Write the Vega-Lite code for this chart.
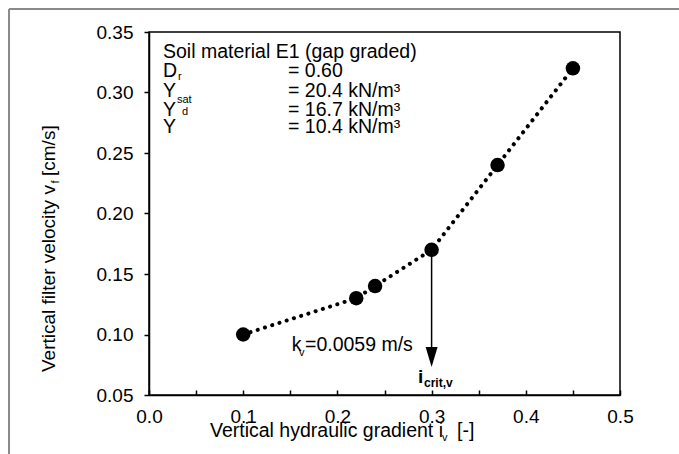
{
  "$schema": "https://vega.github.io/schema/vega-lite/v6.json",
  "width": 471,
  "height": 363,
  "autosize": {"type": "none"},
  "padding": {"left": 149, "top": 32, "right": 59, "bottom": 59},
  "background": "white",
  "config": {
    "view": {"stroke": "black", "strokeWidth": 1.5},
    "axis": {"labelFont": "Liberation Sans", "labelFontSize": 19, "labelColor": "black", "tickColor": "black", "domainColor": "black", "domainWidth": 1.5, "tickWidth": 1.5, "grid": false, "labelOverlap": false, "labelBound": false, "labelFlush": false, "title": null},
    "text": {"font": "Liberation Sans", "color": "black"}
  },
  "datasets": {
    "pts": [
      {"i": 0.10, "v": 0.10},
      {"i": 0.22, "v": 0.13},
      {"i": 0.24, "v": 0.14},
      {"i": 0.30, "v": 0.17},
      {"i": 0.37, "v": 0.24},
      {"i": 0.45, "v": 0.32}
    ],
    "main": [
      {"x": 0.01486, "y": 0.32851, "t": "Soil material E1 (gap graded)"},
      {"x": 0.01486, "y": 0.31281, "t": "D"},
      {"x": 0.01486, "y": 0.29628, "t": "Y"},
      {"x": 0.01486, "y": 0.28058, "t": "Y"},
      {"x": 0.01486, "y": 0.26653, "t": "Y"},
      {"x": 0.14756, "y": 0.31281, "t": "= 0.60"},
      {"x": 0.14756, "y": 0.29628, "t": "= 20.4 kN/m³"},
      {"x": 0.14756, "y": 0.28058, "t": "= 16.7 kN/m³"},
      {"x": 0.14756, "y": 0.26653, "t": "= 10.4 kN/m³"},
      {"x": 0.1515, "y": 0.0864, "t": "k"},
      {"x": 0.1656, "y": 0.0864, "t": "=0.0059 m/s"},
      {"x": 0.06476, "y": 0.01529, "t": "Vertical hydraulic gradient i"},
      {"x": 0.3270, "y": 0.01529, "t": "[-]"}
    ],
    "subs": [
      {"x": 0.03079, "y": 0.31033, "t": "r"},
      {"x": 0.02972, "y": 0.29132, "t": "sat"},
      {"x": 0.03503, "y": 0.28141, "t": "d"},
      {"x": 0.1592, "y": 0.0823, "t": "v"},
      {"x": 0.3110, "y": 0.01198, "t": "v"}
    ],
    "rot": [
      {"x": -0.0998, "y": 0.0690, "t": "Vertical filter velocity v"},
      {"x": -0.0998, "y": 0.2310, "t": "[cm/s]"}
    ],
    "rotsub": [
      {"x": -0.0955, "y": 0.2248, "t": "f"}
    ],
    "bold": [
      {"x": 0.2856, "y": 0.0599, "t": "i"}
    ],
    "boldsub": [
      {"x": 0.2919, "y": 0.0566, "t": "crit,v"}
    ],
    "one": [{}]
  },
  "layer": [
    {
      "data": {"name": "pts"},
      "mark": {"type": "line", "color": "black", "strokeWidth": 4, "strokeDash": [0.1, 7.5], "strokeCap": "round"},
      "encoding": {
        "x": {"field": "i", "type": "quantitative", "scale": {"domain": [0, 0.5], "nice": false, "zero": false},
          "axis": {"values": [0, 0.05, 0.1, 0.15, 0.2, 0.25, 0.3, 0.35, 0.4, 0.45, 0.5], "tickSize": -5, "labelPadding": 17,
            "labelExpr": "abs(datum.value*10 - round(datum.value*10)) < 0.001 ? format(datum.value, '.1f') : ''"}},
        "y": {"field": "v", "type": "quantitative", "scale": {"domain": [0.05, 0.35], "nice": false, "zero": false},
          "axis": {"values": [0.05, 0.075, 0.1, 0.125, 0.15, 0.175, 0.2, 0.225, 0.25, 0.275, 0.3, 0.325, 0.35], "labelPadding": 11,
            "tickSize": {"condition": {"test": "abs(datum.value*20 - round(datum.value*20)) > 0.001", "value": 3}, "value": 5},
            "labelExpr": "abs(datum.value*20 - round(datum.value*20)) < 0.001 ? format(datum.value, '.2f') : ''"}}
      }
    },
    {
      "data": {"name": "pts"},
      "mark": {"type": "circle", "color": "black", "opacity": 1, "size": 210},
      "encoding": {"x": {"field": "i", "type": "quantitative"}, "y": {"field": "v", "type": "quantitative"}}
    },
    {
      "data": {"name": "one"},
      "mark": {"type": "rule", "color": "black", "strokeWidth": 1.5},
      "encoding": {"x": {"datum": 0.3}, "y": {"datum": 0.17}, "y2": {"datum": 0.082}}
    },
    {
      "data": {"name": "one"},
      "mark": {"type": "point", "shape": "M-0.6,-1L0.6,-1L0,1Z", "filled": true, "color": "black", "opacity": 1, "size": 400},
      "encoding": {"x": {"datum": 0.3}, "y": {"datum": 0.0814}}
    },
    {
      "data": {"name": "one"},
      "mark": {"type": "rule", "color": "#8a8a8a", "strokeWidth": 2},
      "encoding": {"x": {"datum": -0.1486}, "y": {"datum": 0.369}, "y2": {"datum": -0.02}}
    },
    {
      "data": {"name": "one"},
      "mark": {"type": "rule", "color": "#8a8a8a", "strokeWidth": 2},
      "encoding": {"x": {"datum": -0.1486}, "x2": {"datum": 0.6}, "y": {"datum": 0.369}}
    },
    {
      "data": {"name": "main"},
      "mark": {"type": "text", "fontSize": 19.5, "align": "left", "baseline": "alphabetic"},
      "encoding": {"x": {"field": "x", "type": "quantitative"}, "y": {"field": "y", "type": "quantitative"}, "text": {"field": "t"}}
    },
    {
      "data": {"name": "subs"},
      "mark": {"type": "text", "fontSize": 11, "align": "left", "baseline": "alphabetic"},
      "encoding": {"x": {"field": "x", "type": "quantitative"}, "y": {"field": "y", "type": "quantitative"}, "text": {"field": "t"}}
    },
    {
      "data": {"name": "rot"},
      "mark": {"type": "text", "fontSize": 19, "align": "left", "baseline": "alphabetic", "angle": 270},
      "encoding": {"x": {"field": "x", "type": "quantitative"}, "y": {"field": "y", "type": "quantitative"}, "text": {"field": "t"}}
    },
    {
      "data": {"name": "rotsub"},
      "mark": {"type": "text", "fontSize": 11, "align": "left", "baseline": "alphabetic", "angle": 270},
      "encoding": {"x": {"field": "x", "type": "quantitative"}, "y": {"field": "y", "type": "quantitative"}, "text": {"field": "t"}}
    },
    {
      "data": {"name": "bold"},
      "mark": {"type": "text", "fontSize": 19, "fontWeight": "bold", "align": "left", "baseline": "alphabetic"},
      "encoding": {"x": {"field": "x", "type": "quantitative"}, "y": {"field": "y", "type": "quantitative"}, "text": {"field": "t"}}
    },
    {
      "data": {"name": "boldsub"},
      "mark": {"type": "text", "fontSize": 12, "fontWeight": "bold", "align": "left", "baseline": "alphabetic"},
      "encoding": {"x": {"field": "x", "type": "quantitative"}, "y": {"field": "y", "type": "quantitative"}, "text": {"field": "t"}}
    }
  ]
}
